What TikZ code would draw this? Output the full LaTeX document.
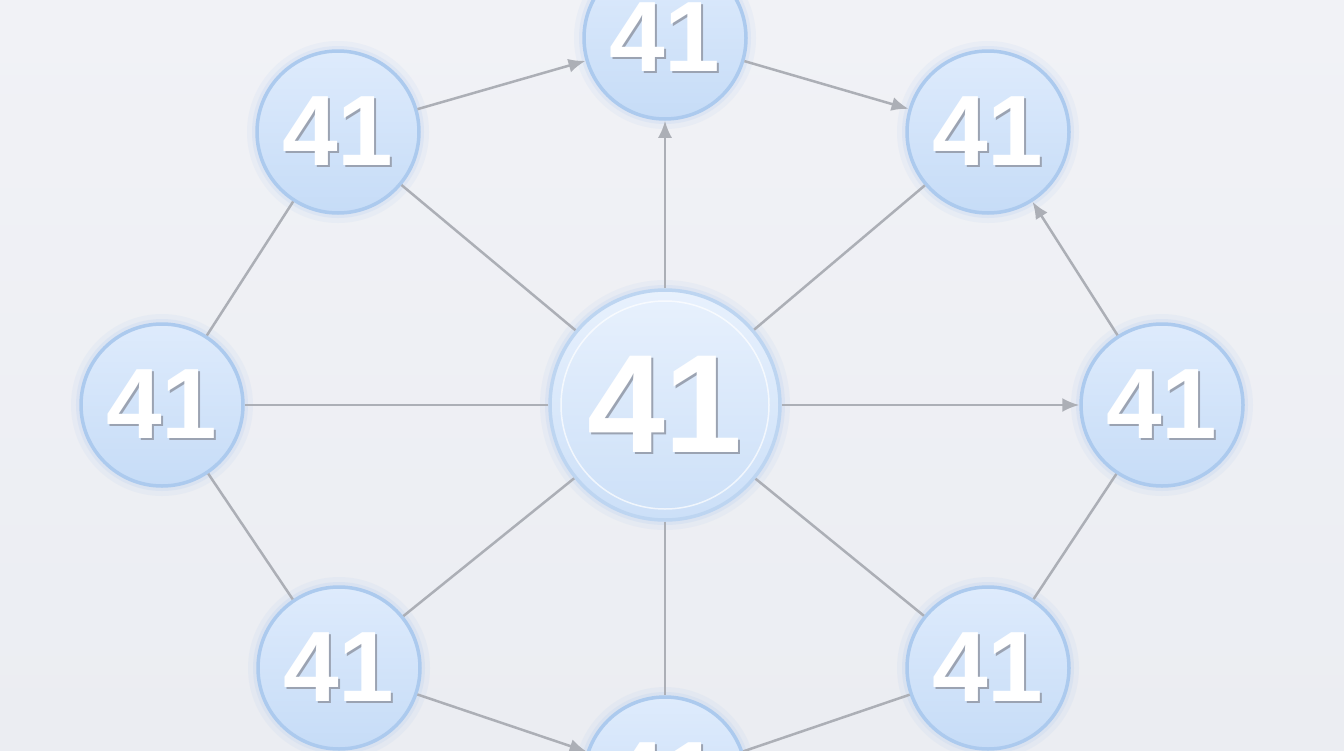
\documentclass[tikz,border=0pt]{standalone}
\usepackage{fontspec}
\setmainfont{Liberation Sans}
\usepackage{xcolor}
\usepackage{tikz}
\usetikzlibrary{arrows.meta}
\definecolor{paper}{RGB}{241,242,246}
\definecolor{paperlo}{RGB}{235,237,242}
\definecolor{rim}{RGB}{172,202,238}
\definecolor{fillhi}{RGB}{222,235,252}
\definecolor{filllo}{RGB}{198,220,247}
\definecolor{glow}{RGB}{165,195,240}
\definecolor{wire}{RGB}{172,175,182}
\definecolor{numshadow}{RGB}{155,163,178}
\newcommand{\dropnum}[1]{\makebox[0pt][l]{\kern2pt\raisebox{-2pt}{\textcolor{numshadow}{#1}}}\textcolor{white}{#1}}
\tikzset{
    leaf/.style = {circle, draw=rim, line width=3.5pt, top color=fillhi, bottom color=filllo,
        minimum size=162pt, inner sep=0pt,
        font=\fontsize{100}{100}\selectfont\bfseries,
        preaction={draw=glow, line width=20pt, opacity=.10},
        preaction={draw=glow, line width=10pt, opacity=.16}},
    hub/.style = {leaf, draw=rim!80, top color=fillhi!70!white, bottom color=filllo!90!white,
        minimum size=230pt, font=\fontsize{140}{140}\selectfont\bfseries,
        path picture={\draw[white, opacity=.7, line width=1.5pt]
            (path picture bounding box.center) circle (104pt);}},
    wire/.style = {draw=wire, line width=2.5pt},
    flow/.style = {wire, -{Latex[length=17pt,width=14pt]}},
}

\begin{document}
\begin{tikzpicture}[x=1pt, y=-1pt]
    \useasboundingbox (0,0) rectangle (1344,750);
    \clip (0,0) rectangle (1344,750);
    \shade[top color=paper, bottom color=paperlo] (0,0) rectangle (1344,750);

    \node (c) at (665,405) [hub] {\dropnum{41}};
    \node (n) at (665,38) [leaf] {\dropnum{41}};
    \node (ne) at (988,132) [leaf] {\dropnum{41}};
    \node (e) at (1162,405) [leaf] {\dropnum{41}};
    \node (se) at (988,668) [leaf] {\dropnum{41}};
    \node (s) at (665,778) [leaf] {\dropnum{41}};
    \node (sw) at (339,668) [leaf] {\dropnum{41}};
    \node (w) at (162,405) [leaf] {\dropnum{41}};
    \node (nw) at (338,132) [leaf] {\dropnum{41}};

    % spokes
    \draw[flow] (c) -- (n);
    \draw[flow] (c) -- (e);
    \draw[wire] (c) -- (ne);
    \draw[wire] (c) -- (se);
    \draw[wire] (c) -- (s);
    \draw[wire] (c) -- (sw);
    \draw[wire] (c) -- (w);
    \draw[wire] (c) -- (nw);

    % rim
    \draw[flow] (nw) -- (n);
    \draw[flow] (n) -- (ne);
    \draw[flow] (e) -- (ne);
    \draw[wire] (se) -- (e);
    \draw[wire] (s) -- (se);
    \draw[flow] (sw) -- (s);
    \draw[wire] (w) -- (sw);
    \draw[wire] (nw) -- (w);
\end{tikzpicture}
\end{document}
